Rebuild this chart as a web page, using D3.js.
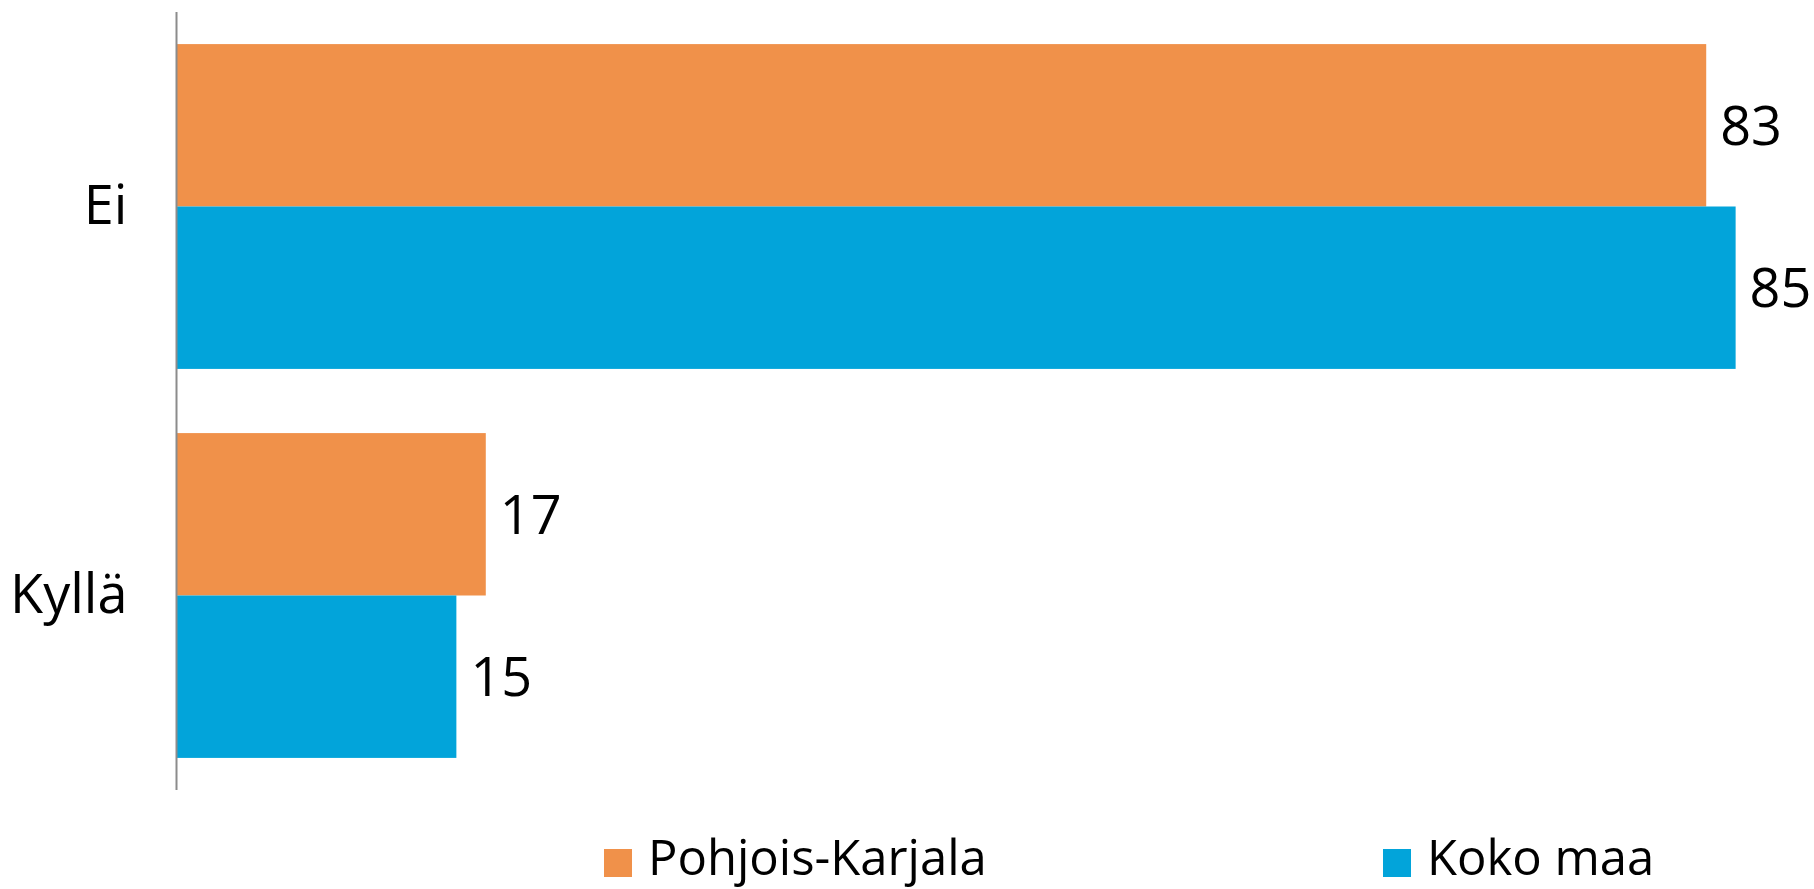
<!DOCTYPE html>
<html>
<head>
<meta charset="utf-8">
<script src="https://cdn.jsdelivr.net/npm/d3@7"></script>
<style>
  html, body { margin: 0; padding: 0; background: #fff; }
  svg { display: block; font-family: "Open Sans", "Noto Sans", sans-serif; }
</style>
</head>
<body>
<svg id="chart"></svg>
<script>
// data (percent, labels shown rounded)
const categories = ['Ei', 'Kyllä'];
const seriesNames = ['Pohjois-Karjala', 'Koko maa'];
const pohjoisKarjala = [83.2, 16.8];
const kokoMaa = [84.8, 15.2];
const seriesColors = ['#F0914A', '#02A4DA'];

const W = 1814, H = 889;
const svg = d3.select('#chart').attr('width', W).attr('height', H);

const series = [pohjoisKarjala, kokoMaa].map((vals, i) => ({
    name: seriesNames[i],
    color: seriesColors[i],
    values: vals
}));

const x = d3.scaleLinear().domain([0, 100]).range([177, 2015]);
const y = d3.scaleBand().domain(categories).range([12, 790])
    .paddingInner(0.165).paddingOuter(0.0825);
const ySub = d3.scaleBand().domain(seriesNames).range([0, y.bandwidth()]);

// bars + value labels
series.forEach(s => {
    const rows = categories.map((c, i) => ({ c, v: s.values[i] }));
    const g = svg.append('g');
    g.selectAll('rect')
        .data(rows)
        .join('rect')
        .attr('x', x(0))
        .attr('y', d => y(d.c) + ySub(s.name))
        .attr('width', d => x(d.v) - x(0))
        .attr('height', ySub.bandwidth())
        .attr('fill', s.color);

    g.selectAll('text')
        .data(rows)
        .join('text')
        .attr('x', d => x(d.v) + 14)
        .attr('y', d => y(d.c) + ySub(s.name) + ySub.bandwidth() / 2)
        .attr('dy', '0.36em')
        .attr('font-size', 54)
        .attr('fill', '#000')
        .text(d => Math.round(d.v));
});

// category axis
const axis = svg.append('g').attr('transform', `translate(${x(0) - 0.5},0)`)
    .call(d3.axisLeft(y).tickSize(0).tickPadding(49));
axis.select('.domain').attr('stroke', '#8c8c8c').attr('stroke-width', 2)
    .attr('d', 'M0,12V790');
axis.selectAll('text').attr('font-size', 54).attr('fill', '#000')
    .attr('font-family', '"Open Sans", "Noto Sans", sans-serif');

// legend
const legendX = [604, 1383];
const lg = svg.selectAll('.lg').data(series).join('g')
    .attr('class', 'lg')
    .attr('transform', (d, i) => `translate(${legendX[i]},849)`);
lg.append('rect').attr('width', 28).attr('height', 28).attr('fill', d => d.color);
lg.append('text').attr('x', 44).attr('y', 26)
    .attr('font-size', 49).attr('fill', '#000')
    .text(d => d.name);
</script>
</body>
</html>
